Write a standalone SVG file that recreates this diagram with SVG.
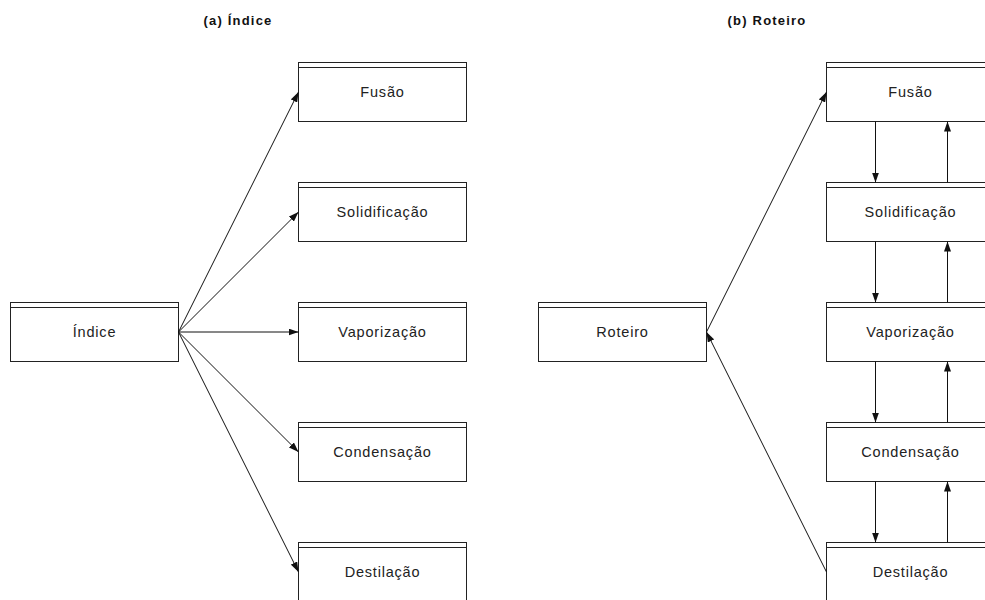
<svg xmlns="http://www.w3.org/2000/svg" width="985" height="600" viewBox="0 0 985 600">
  <style>
    .box rect { fill: #ffffff; stroke: #222222; stroke-width: 1; }
    .box line { stroke: #222222; stroke-width: 1; }
    .label { font-family: "Liberation Sans", Arial, sans-serif; font-size: 14.5px; letter-spacing: 0.8px; fill: #222222; text-anchor: middle; }
    .title { font-family: "Liberation Sans", Arial, sans-serif; font-size: 13px; font-weight: bold; letter-spacing: 1.2px; fill: #111111; text-anchor: middle; }
    .conn line { stroke: #111111; stroke-width: 1; fill: none; marker-end: url(#head); }
  </style>
  <defs>
    <marker id="head" markerUnits="userSpaceOnUse" markerWidth="10" markerHeight="7" refX="10" refY="3.5" orient="auto">
      <path d="M0,0 L10,3.5 L0,7 z" fill="#111111"/>
    </marker>
  </defs>
  <rect width="985" height="600" fill="#ffffff"/>

  <text class="title" x="238" y="24.5">(a) Índice</text>
  <text class="title" x="767" y="24.5">(b) Roteiro</text>

  <!-- (a) index and its pages -->
  <g id="indice" class="box">
    <rect x="10.5" y="302.5" width="168" height="59"/>
    <line x1="10.5" y1="307.5" x2="178.5" y2="307.5"/>
    <text class="label" x="94.5" y="337">Índice</text>
  </g>
  <g id="a-fusao" class="box">
    <rect x="298.5" y="62.5" width="168" height="59"/>
    <line x1="298.5" y1="67.5" x2="466.5" y2="67.5"/>
    <text class="label" x="382.5" y="97">Fusão</text>
  </g>
  <g id="a-solidificacao" class="box">
    <rect x="298.5" y="182.5" width="168" height="59"/>
    <line x1="298.5" y1="187.5" x2="466.5" y2="187.5"/>
    <text class="label" x="382.5" y="217">Solidificação</text>
  </g>
  <g id="a-vaporizacao" class="box">
    <rect x="298.5" y="302.5" width="168" height="59"/>
    <line x1="298.5" y1="307.5" x2="466.5" y2="307.5"/>
    <text class="label" x="382.5" y="337">Vaporização</text>
  </g>
  <g id="a-condensacao" class="box">
    <rect x="298.5" y="422.5" width="168" height="59"/>
    <line x1="298.5" y1="427.5" x2="466.5" y2="427.5"/>
    <text class="label" x="382.5" y="457">Condensação</text>
  </g>
  <g id="a-destilacao" class="box">
    <rect x="298.5" y="542.5" width="168" height="59"/>
    <line x1="298.5" y1="547.5" x2="466.5" y2="547.5"/>
    <text class="label" x="382.5" y="577">Destilação</text>
  </g>

  <!-- (b) route and its pages -->
  <g id="roteiro" class="box">
    <rect x="538.5" y="302.5" width="168" height="59"/>
    <line x1="538.5" y1="307.5" x2="706.5" y2="307.5"/>
    <text class="label" x="622.5" y="337">Roteiro</text>
  </g>
  <g id="b-fusao" class="box">
    <rect x="826.5" y="62.5" width="168" height="59"/>
    <line x1="826.5" y1="67.5" x2="994.5" y2="67.5"/>
    <text class="label" x="910.5" y="97">Fusão</text>
  </g>
  <g id="b-solidificacao" class="box">
    <rect x="826.5" y="182.5" width="168" height="59"/>
    <line x1="826.5" y1="187.5" x2="994.5" y2="187.5"/>
    <text class="label" x="910.5" y="217">Solidificação</text>
  </g>
  <g id="b-vaporizacao" class="box">
    <rect x="826.5" y="302.5" width="168" height="59"/>
    <line x1="826.5" y1="307.5" x2="994.5" y2="307.5"/>
    <text class="label" x="910.5" y="337">Vaporização</text>
  </g>
  <g id="b-condensacao" class="box">
    <rect x="826.5" y="422.5" width="168" height="59"/>
    <line x1="826.5" y1="427.5" x2="994.5" y2="427.5"/>
    <text class="label" x="910.5" y="457">Condensação</text>
  </g>
  <g id="b-destilacao" class="box">
    <rect x="826.5" y="542.5" width="168" height="59"/>
    <line x1="826.5" y1="547.5" x2="994.5" y2="547.5"/>
    <text class="label" x="910.5" y="577">Destilação</text>
  </g>

  <g id="connectors" class="conn">
    <!-- index fans out to every page -->
    <line x1="178.5" y1="332" x2="298.5" y2="92"/>
    <line x1="178.5" y1="332" x2="298.5" y2="212"/>
    <line x1="178.5" y1="332" x2="298.5" y2="332"/>
    <line x1="178.5" y1="332" x2="298.5" y2="452"/>
    <line x1="178.5" y1="332" x2="298.5" y2="572"/>
    <!-- route: start, sequence, return -->
    <line x1="706.5" y1="332" x2="826.5" y2="92"/>
    <line x1="826.5" y1="572" x2="706.5" y2="332"/>
    <line x1="875.5" y1="121.5" x2="875.5" y2="182.5"/>
    <line x1="947.5" y1="182.5" x2="947.5" y2="121.5"/>
    <line x1="875.5" y1="241.5" x2="875.5" y2="302.5"/>
    <line x1="947.5" y1="302.5" x2="947.5" y2="241.5"/>
    <line x1="875.5" y1="361.5" x2="875.5" y2="422.5"/>
    <line x1="947.5" y1="422.5" x2="947.5" y2="361.5"/>
    <line x1="875.5" y1="481.5" x2="875.5" y2="542.5"/>
    <line x1="947.5" y1="542.5" x2="947.5" y2="481.5"/>
  </g>
</svg>
